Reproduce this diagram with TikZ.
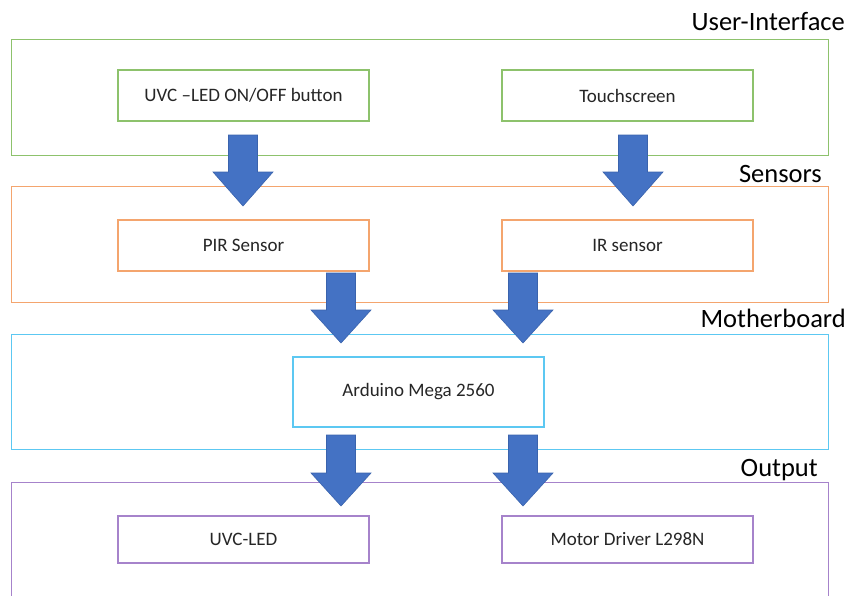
\documentclass[tikz,border=0pt]{standalone}
\usepackage{fontspec}
\setmainfont{Carlito}
\definecolor{uigreen}{HTML}{8DC26C}
\definecolor{snorange}{HTML}{F4A56E}
\definecolor{mbcyan}{HTML}{5CC8F2}
\definecolor{outpurple}{HTML}{A683CB}
\definecolor{arrowblue}{HTML}{4472C4}
\definecolor{arrowedge}{HTML}{3A63AD}
\begin{document}
\begin{tikzpicture}[x=1pt,y=-1pt,
  layer/.style={draw=#1,line width=1.1pt,inner sep=0pt,anchor=north west},
  unit/.style={draw=#1,line width=1.1pt,fill=white,inner sep=0pt,minimum width=251pt,minimum height=51pt,font=\fontsize{19}{22}\selectfont,text=black!85},
  title/.style={anchor=base east,font=\fontsize{26.5}{31}\selectfont,text=black,inner sep=0pt},
  blockarrow/.style={fill=arrowblue,draw=arrowedge,line width=0.6pt}]
\useasboundingbox (0,0) rectangle (853,595);
\clip (0,0) rectangle (853,595);

% layer frames
\node[layer=uigreen,minimum width=817pt,minimum height=116pt] (ui) at (11,39) {};
\node[layer=snorange,minimum width=817pt,minimum height=116pt] (sn) at (11,186) {};
\node[layer=mbcyan,minimum width=817pt,minimum height=115pt] (mb) at (11,334) {};
\node[layer=outpurple,minimum width=817pt,minimum height=130pt] (out) at (11,482) {};

% layer titles
\node[title] (tui) at (845,30) {User-Interface};
\node[title] (tsn) at (822,182) {Sensors};
\node[title] (tmb) at (846,327) {Motherboard};
\node[title] (tout) at (818,476) {Output};

% units
\node[unit=uigreen] (btn) at (243.5,95.5) {UVC –LED ON/OFF button};
\node[unit=uigreen] (touch) at (627.5,95.5) {Touchscreen};
\node[unit=snorange] (pir) at (243.5,245.5) {PIR Sensor};
\node[unit=snorange] (ir) at (627.5,245.5) {IR sensor};
\node[unit=mbcyan,minimum height=70pt] (mega) at (418.5,392) {Arduino Mega 2560};
\node[unit=outpurple,minimum height=47pt] (led) at (243.5,539.5) {UVC-LED};
\node[unit=outpurple,minimum height=47pt] (motor) at (627.5,539.5) {Motor Driver L298N};

% block arrows: centre x, top, head start, tip
\newcommand{\blockarr}[4]{%
  \draw[blockarrow] (#1-14.5,#2) -- (#1+14.5,#2) -- (#1+14.5,#3) -- (#1+30,#3)
    -- (#1,#4) -- (#1-30,#3) -- (#1-14.5,#3) -- cycle;}
\blockarr{243}{135}{172}{206}
\blockarr{633}{135}{172}{206}
\blockarr{341}{273}{310}{343}
\blockarr{523}{273}{310}{343}
\blockarr{341}{435}{473}{506}
\blockarr{523}{435}{473}{506}
\end{tikzpicture}
\end{document}
